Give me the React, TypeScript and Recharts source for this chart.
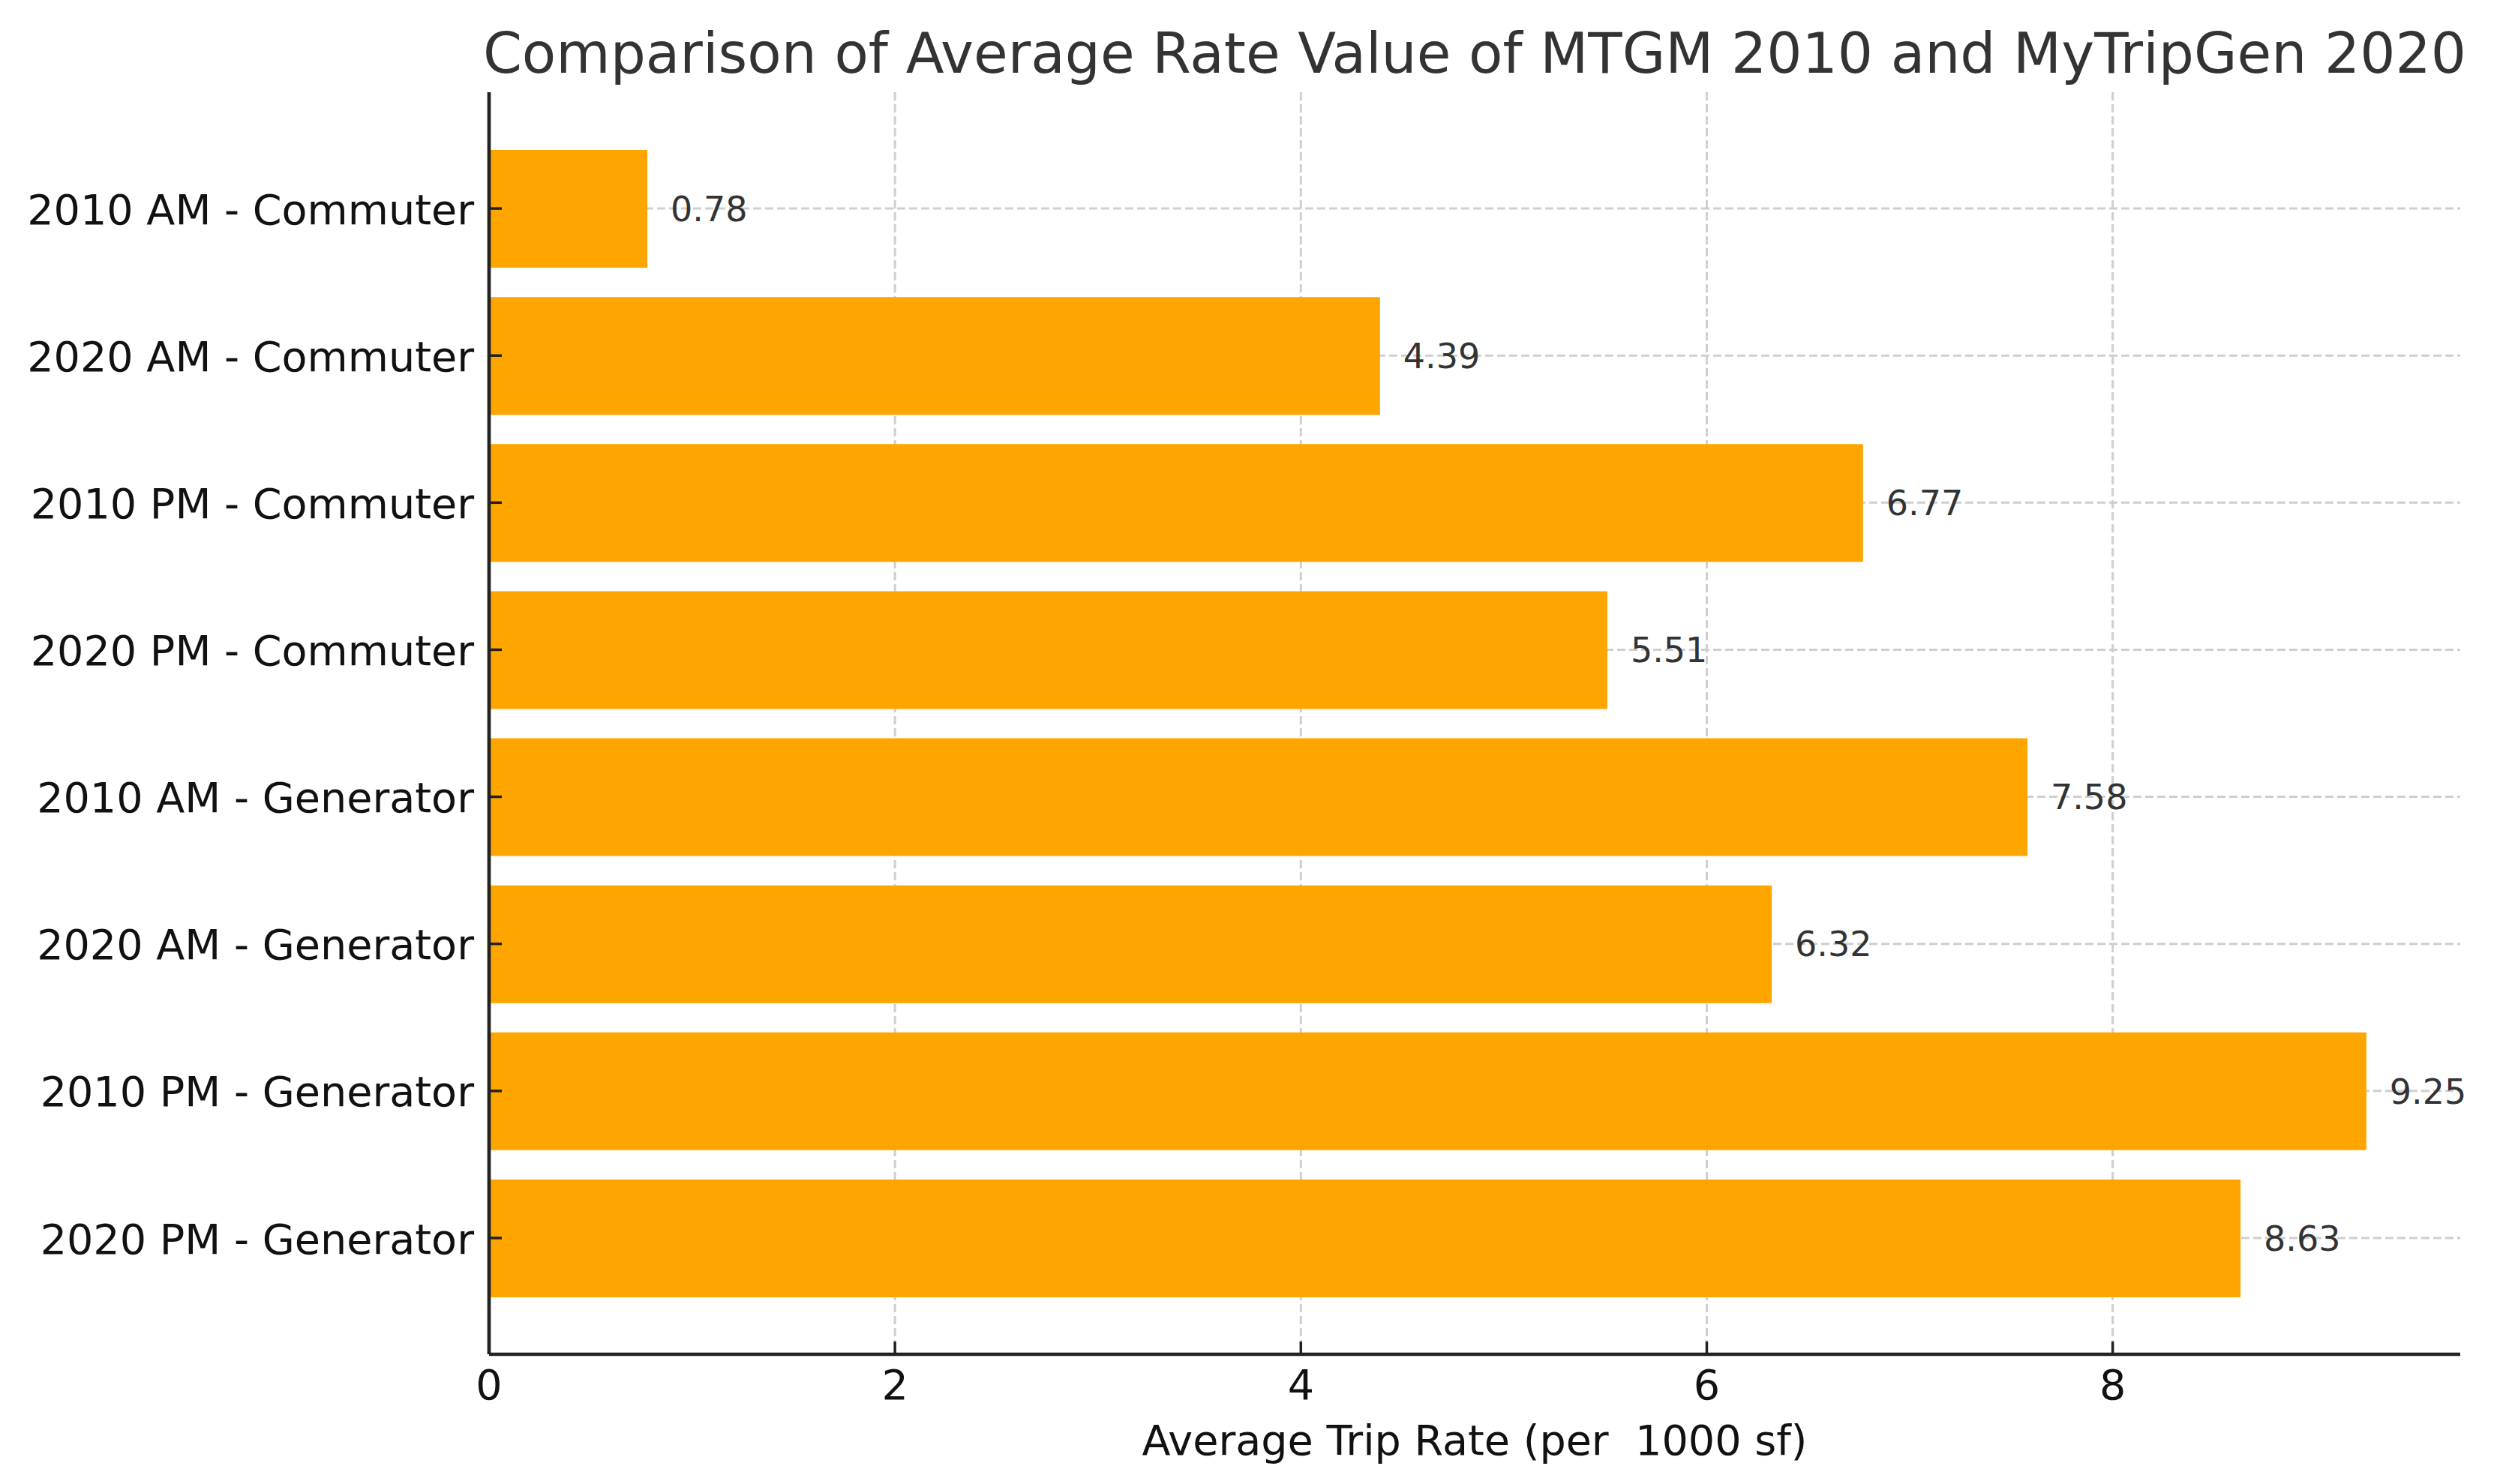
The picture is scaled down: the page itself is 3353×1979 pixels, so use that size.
import React from 'react';
import {
  BarChart,
  Bar,
  XAxis,
  YAxis,
  CartesianGrid,
  LabelList,
} from 'recharts';

const categories = [
  '2010 AM - Commuter',
  '2020 AM - Commuter',
  '2010 PM - Commuter',
  '2020 PM - Commuter',
  '2010 AM - Generator',
  '2020 AM - Generator',
  '2010 PM - Generator',
  '2020 PM - Generator',
];
const rates = [0.78, 4.39, 6.77, 5.51, 7.58, 6.32, 9.25, 8.63];
const xTicks = [0, 2, 4, 6, 8];

const title = 'Comparison of Average Rate Value of MTGM 2010 and MyTripGen 2020';
const xLabel = 'Average Trip Rate (per  1000 sf)';

const FONT = '"DejaVu Sans", Verdana, sans-serif';
const W = 3353;
const H = 1979;

// XAxis tick: inward tick line + label below
const XTick = (props: any) => {
  const { x, y, payload } = props;
  return (
    <g>
      <line x1={x} y1={y} x2={x} y2={y - 17} stroke="#222" strokeWidth={3.5} />
      <text x={x} y={y + 60} textAnchor="middle" fontSize={55.6} fontFamily={FONT} fill="#111">
        {payload.value}
      </text>
    </g>
  );
};

// YAxis tick: inward tick line + label left of spine
const YTick = (props: any) => {
  const { x, y, payload } = props;
  return (
    <g>
      <line x1={x} y1={y} x2={x + 17} y2={y} stroke="#222" strokeWidth={3.5} />
      <text x={x - 20} y={y} dy="0.37em" textAnchor="end" fontSize={55.6} fontFamily={FONT} fill="#111">
        {payload.value}
      </text>
    </g>
  );
};

export default function App() {
  const data = categories.map((name, i) => ({ name, rate: rates[i] }));

  return (
    <div style={{ position: 'absolute', left: 0, top: 0, width: W, height: H, background: '#fff' }}>
      <BarChart
        width={W}
        height={H}
        data={data}
        layout="vertical"
        margin={{ top: 123, right: 73, left: 0, bottom: 0 }}
      >
        <CartesianGrid stroke="#cfcfcf" strokeWidth={3} strokeDasharray="11 5" syncWithTicks />
        <XAxis
          type="number"
          domain={[0, 9.7125]}
          ticks={xTicks}
          height={173}
          tickSize={0}
          tickMargin={0}
          tick={<XTick />}
          axisLine={{ stroke: '#222', strokeWidth: 4.7 }}
          tickLine={false}
        />
        <YAxis
          type="category"
          dataKey="name"
          width={652}
          padding={{ top: 57, bottom: 57 }}
          tickSize={0}
          tickMargin={0}
          tick={<YTick />}
          axisLine={{ stroke: '#222', strokeWidth: 4.7 }}
          tickLine={false}
          interval={0}
        />
        <Bar dataKey="rate" fill="#FFA500" barSize={157} isAnimationActive={false}>
          <LabelList
            dataKey="rate"
            position="right"
            offset={31}
            fontSize={46}
            fontFamily={FONT}
            fill="#333"
            formatter={(v: any) => Number(v).toFixed(2)}
          />
        </Bar>
        <text x={1966} y={97} textAnchor="middle" fontSize={74.3} fontFamily={FONT} fill="#333">
          {title}
        </text>
        <text
          x={1966}
          y={1940}
          textAnchor="middle"
          fontSize={55.6}
          fontFamily={FONT}
          fill="#111"
          style={{ whiteSpace: 'pre' }}
        >
          {xLabel}
        </text>
      </BarChart>
    </div>
  );
}
